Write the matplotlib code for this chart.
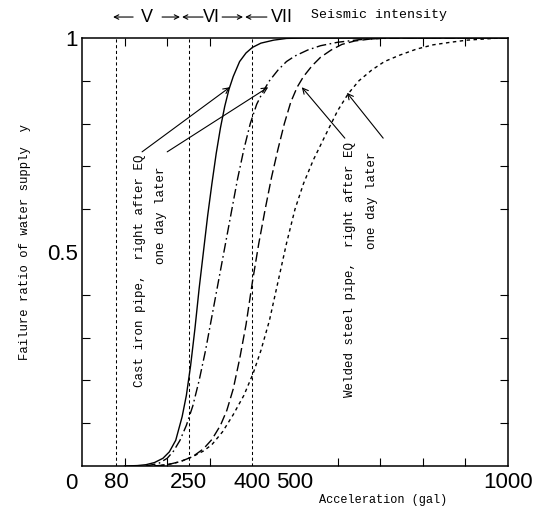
import matplotlib
matplotlib.use("Agg")
import matplotlib.pyplot as plt

MONO = "Liberation Mono"
SANS = "Liberation Sans"

# cast iron pipe, right after EQ (solid)
ci_now_x = [100, 130, 150, 170, 190, 205, 220, 235, 245, 255, 265, 275, 285, 295, 305,
            315, 325, 335, 345, 355, 370, 385, 400, 420, 450, 480, 520, 1000]
ci_now_y = [0, 0.001, 0.003, 0.008, 0.018, 0.033, 0.06, 0.115, 0.165, 0.235, 0.32, 0.415,
            0.5, 0.585, 0.66, 0.73, 0.79, 0.84, 0.88, 0.91, 0.945, 0.965, 0.978, 0.988,
            0.995, 0.999, 1.0, 1.0]

# cast iron pipe, one day later (dash-dot)
ci_day_x = [150, 180, 200, 215, 230, 245, 260, 275, 290, 305, 320, 335, 350, 365, 380,
            395, 410, 425, 440, 460, 480, 500, 530, 560, 600, 650, 700, 750, 1000]
ci_day_y = [0, 0.006, 0.018, 0.035, 0.06, 0.095, 0.14, 0.2, 0.27, 0.35, 0.43, 0.51, 0.59,
            0.67, 0.74, 0.8, 0.845, 0.875, 0.9, 0.925, 0.945, 0.958, 0.972, 0.982, 0.99,
            0.996, 0.999, 1.0, 1.0]

# welded steel pipe, right after EQ (long dash)
ws_now_x = [170, 200, 230, 260, 285, 305, 325, 340, 355, 370, 385, 400, 415, 430, 445,
            460, 475, 490, 505, 520, 540, 560, 585, 610, 640, 680, 720, 1000]
ws_now_y = [0, 0.003, 0.01, 0.022, 0.04, 0.062, 0.095, 0.13, 0.18, 0.25, 0.33, 0.43, 0.52,
            0.6, 0.675, 0.74, 0.8, 0.85, 0.885, 0.91, 0.935, 0.955, 0.972, 0.985, 0.993,
            0.998, 1.0, 1.0]

# welded steel pipe, one day later (short dash)
ws_day_x = [170, 200, 230, 260, 285, 305, 330, 355, 380, 402, 420, 440, 460, 480, 500,
            520, 543, 570, 600, 625, 650, 680, 710, 746, 785, 824, 865, 904, 950, 981, 1000]
ws_day_y = [0, 0.003, 0.01, 0.022, 0.035, 0.05, 0.08, 0.12, 0.165, 0.217, 0.27, 0.34, 0.43,
            0.52, 0.6, 0.66, 0.715, 0.77, 0.83, 0.87, 0.9, 0.925, 0.945, 0.96, 0.974,
            0.984, 0.99, 0.995, 0.998, 1.0, 1.0]

boundaries = [80, 250, 400]
xtick_pos = [80, 250, 400, 500, 1000]
xtick_lab = ["80", "250", "400", "500", "1000"]
ytick_pos = [0.5, 1.0]
ytick_lab = ["0.5", "1"]

fig = plt.figure(figsize=(5.43, 5.13), dpi=100)
ax = fig.add_axes([82 / 543, 47 / 513, 426 / 543, 428 / 513])

ax.plot(ci_now_x, ci_now_y, color="black", lw=1.0)
ax.plot(ci_day_x, ci_day_y, color="black", lw=1.0, dashes=(7, 2.5, 1.2, 2.5))
ax.plot(ws_now_x, ws_now_y, color="black", lw=1.0, dashes=(7, 3))
ax.plot(ws_day_x, ws_day_y, color="black", lw=1.0, dashes=(2.5, 2.5))

for b in boundaries:
    ax.axvline(b, color="black", lw=0.75, dashes=(3, 2.5))

ax.set_xlim(0, 1000)
ax.set_ylim(0, 1)

ax.set_xticks(xtick_pos)
ax.set_xticklabels(xtick_lab, fontfamily=SANS, fontsize=16)
ax.set_xticks(range(100, 1000, 100), minor=True)
ax.set_yticks(ytick_pos)
ax.set_yticklabels(ytick_lab, fontfamily=SANS, fontsize=16)
ax.set_yticks([i / 10 for i in range(1, 10)], minor=True)
ax.tick_params(axis="x", which="major", length=0, pad=4)
ax.tick_params(axis="y", which="major", length=0, pad=3)
ax.tick_params(which="minor", direction="in", length=6, width=0.8,
               top=True, right=True, bottom=True, left=True)
for s in ax.spines.values():
    s.set_linewidth(1.1)

ax.annotate("0", xy=(0, 0), xytext=(-3, -5), textcoords="offset points",
            ha="right", va="top", fontfamily=SANS, fontsize=16)

# seismic intensity ranges above the axes
tr = ax.get_xaxis_transform()
yi = 1.049
arrows = [(120, 73), (188, 230), (284, 235), (329, 378), (434, 383)]
for tail, tip in arrows:
    ax.annotate("", xy=(tip, yi), xytext=(tail, yi), xycoords=tr, textcoords=tr,
                arrowprops=dict(arrowstyle="->", lw=0.8, shrinkA=0, shrinkB=0,
                                mutation_scale=8), annotation_clip=False)
for lab, xp in [("V", 153), ("VI", 303), ("VII", 470)]:
    ax.text(xp, yi, lab, transform=tr, ha="center", va="center",
            fontfamily=SANS, fontsize=13, clip_on=False)
fig.text(379 / 543, 1 - 15 / 513, "Seismic intensity", ha="center", va="center",
         fontfamily=MONO, fontsize=9.5)

# curve labels
ax.text(136, 0.727, "Cast iron pipe,  right after EQ", rotation=90,
        ha="center", va="top", fontfamily=MONO, fontsize=9)
ax.text(185, 0.699, "one day later", rotation=90,
        ha="center", va="top", fontfamily=MONO, fontsize=9)
ax.text(629, 0.757, "Welded steel pipe,  right after EQ", rotation=90,
        ha="center", va="top", fontfamily=MONO, fontsize=9)
ax.text(681, 0.734, "one day later", rotation=90,
        ha="center", va="top", fontfamily=MONO, fontsize=9)

pointers = [((141, 0.734), (347, 0.885)), ((200, 0.734), (437, 0.885)),
            ((617, 0.766), (516, 0.885)), ((707, 0.766), (622, 0.872))]
for start, tip in pointers:
    ax.annotate("", xy=tip, xytext=start,
                arrowprops=dict(arrowstyle="->", lw=0.8, shrinkA=0, shrinkB=0,
                                mutation_scale=10))

fig.text(25 / 543, 1 - 242 / 513, "Failure ratio of water supply  y", rotation=90,
         ha="center", va="center", fontfamily=MONO, fontsize=8.8)
fig.text(383 / 543, 1 - 500 / 513, "Acceleration (gal)", ha="center", va="center",
         fontfamily=MONO, fontsize=8.6)

fig.savefig("out.png", dpi=100)
